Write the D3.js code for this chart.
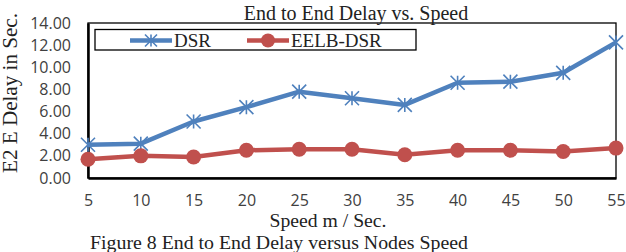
<!DOCTYPE html>
<html>
<head>
<meta charset="utf-8">
<script src="https://cdn.jsdelivr.net/npm/d3@7"></script>
<style>
  body { margin:0; background:#fff; }
</style>
</head>
<body>
<div class="canvas"></div>
<script>
// chart data
const speeds = [5, 10, 15, 20, 25, 30, 35, 40, 45, 50, 55];
const dsr = [3.0, 3.1, 5.1, 6.4, 7.8, 7.2, 6.6, 8.6, 8.7, 9.5, 12.25];
const eelb = [1.7, 2.0, 1.9, 2.5, 2.6, 2.6, 2.1, 2.5, 2.5, 2.4, 2.7];
const yTicks = [0, 2, 4, 6, 8, 10, 12, 14];

const svg = d3.select('.canvas')
  .append('svg')
    .attr('width', 626)
    .attr('height', 252);

const margin = {top: 23, right: 10, bottom: 74, left: 88};
const graphWidth = 626 - margin.left - margin.right;
const graphHeight = 252 - margin.top - margin.bottom;

const graph = svg.append('g')
  .attr('transform', `translate(${margin.left},${margin.top})`);

const x = d3.scaleLinear()
  .domain([5, 55])
  .range([0, graphWidth]);

const y = d3.scaleLinear()
  .domain([0, 14])
  .range([graphHeight, 0]);

// frame
graph.append('rect')
  .attr('width', graphWidth)
  .attr('height', graphHeight)
  .attr('fill', 'none')
  .attr('stroke', '#000')
  .attr('stroke-width', 1.3);

// axes (labels only, no ticks)
const yAxis = d3.axisLeft(y).tickValues(yTicks).tickFormat(d3.format('.2f')).tickSize(0).tickPadding(17);
graph.append('g').call(yAxis)
  .call(g => g.select('.domain').attr('stroke-width', 2.5));

const xAxis = d3.axisBottom(x).tickValues(speeds).tickSize(0).tickPadding(16.5);
graph.append('g')
  .attr('transform', `translate(0,${graphHeight})`)
  .call(xAxis)
  .call(g => g.select('.domain').attr('stroke-width', 2.5));

svg.selectAll('.tick text')
  .attr('font-family', '"Open Sans", sans-serif')
  .attr('font-size', 16)
  .attr('fill', '#404040');

const line = d3.line()
  .x((d, i) => x(speeds[i]))
  .y(d => y(d));

const blue = '#4F81BD';
const red = '#C0504D';

// asterisk marker
const star = (g, cx, cy, s) => {
  const h = s / 2;
  g.append('path')
    .attr('d', `M${cx - h},${cy - h}L${cx + h},${cy + h}M${cx - h},${cy + h}L${cx + h},${cy - h}M${cx},${cy - h}L${cx},${cy + h}`)
    .attr('stroke', blue)
    .attr('stroke-width', 1.6)
    .attr('fill', 'none');
};

graph.append('path')
  .datum(dsr)
  .attr('d', line)
  .attr('fill', 'none')
  .attr('stroke', blue)
  .attr('stroke-width', 4.5)
  .attr('stroke-linejoin', 'round');

dsr.forEach((d, i) => star(graph, x(speeds[i]), y(d), 14));

graph.append('path')
  .datum(eelb)
  .attr('d', line)
  .attr('fill', 'none')
  .attr('stroke', red)
  .attr('stroke-width', 4.5)
  .attr('stroke-linejoin', 'round');

graph.selectAll('circle.eelb')
  .data(eelb)
  .enter()
  .append('circle')
    .attr('class', 'eelb')
    .attr('cx', (d, i) => x(speeds[i]))
    .attr('cy', d => y(d))
    .attr('r', 7.5)
    .attr('fill', red);

// legend
const legend = svg.append('g');
legend.append('rect')
  .attr('x', 95).attr('y', 29.5)
  .attr('width', 321).attr('height', 20.5)
  .attr('fill', '#fff')
  .attr('stroke', '#000')
  .attr('stroke-width', 1.3);
legend.append('line')
  .attr('x1', 130).attr('x2', 172).attr('y1', 40.5).attr('y2', 40.5)
  .attr('stroke', blue).attr('stroke-width', 4.5);
star(legend, 151, 40.5, 12);
legend.append('text')
  .attr('x', 174).attr('y', 47)
  .attr('font-family', '"Liberation Serif", serif')
  .attr('font-size', 19)
  .attr('fill', '#222')
  .text('DSR');
legend.append('line')
  .attr('x1', 247).attr('x2', 289).attr('y1', 40.5).attr('y2', 40.5)
  .attr('stroke', red).attr('stroke-width', 4.5);
legend.append('circle')
  .attr('cx', 268).attr('cy', 40.5).attr('r', 7)
  .attr('fill', red);
legend.append('text')
  .attr('x', 291).attr('y', 47)
  .attr('font-family', '"Liberation Serif", serif')
  .attr('font-size', 19)
  .attr('fill', '#222')
  .text('EELB-DSR');

// titles
const serifText = (tx, ty, size, str) => svg.append('text')
  .attr('x', tx).attr('y', ty)
  .attr('text-anchor', 'middle')
  .attr('font-family', '"Liberation Serif", serif')
  .attr('font-size', size)
  .attr('fill', '#222')
  .text(str);

serifText(356, 20, 20, 'End to End Delay vs. Speed');
serifText(328, 227, 18, 'Speed m / Sec.')
  .attr('textLength', 117)
  .attr('lengthAdjust', 'spacingAndGlyphs');
serifText(279, 249, 19, 'Figure 8 End to End Delay versus Nodes Speed')
  .attr('textLength', 378)
  .attr('lengthAdjust', 'spacingAndGlyphs');
serifText(0, 0, 20, 'E2 E Delay in Sec.')
  .attr('textLength', 160)
  .attr('lengthAdjust', 'spacingAndGlyphs')
  .attr('transform', 'translate(17,93) rotate(-90)');
</script>
</body>
</html>
